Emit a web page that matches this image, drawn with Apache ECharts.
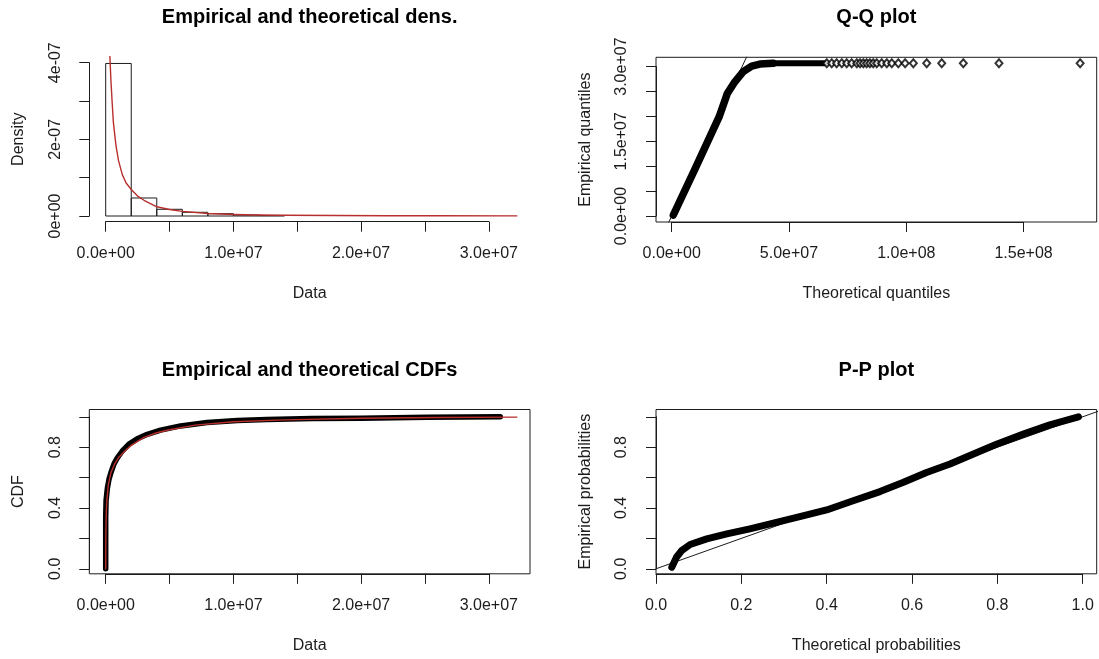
<!DOCTYPE html>
<html><head><meta charset="utf-8">
<script src="https://cdn.jsdelivr.net/npm/echarts@6/dist/echarts.min.js"></script>
<style>html,body{margin:0;padding:0;background:#fff}#c{width:1099px;height:659px}</style>
</head><body><div id="c"></div>
<script>
// ================= DATA =================
// Panel 1: histogram (density scale) + fitted density (red)
const histBreaks  = [0, 2e6, 4e6, 6e6, 8e6, 10e6, 12e6, 14e6];
const histDensity = [3.98e-7, 0.47e-7, 0.175e-7, 0.097e-7, 0.06e-7, 0.025e-7, 0.012e-7];
const densX = [2.5e5, 3.0e5, 4.0e5, 5.0e5, 6.0e5, 8.0e5, 1.0e6, 1.3e6, 1.6e6, 2.0e6, 2.5e6, 3.0e6, 4.0e6, 5.0e6, 6.0e6, 8.0e6, 1.0e7, 1.2e7, 1.4e7, 1.8e7, 2.2e7, 2.6e7, 3.22e7];
const densY = [5.2e-7, 4.4e-7, 3.6e-7, 3.0e-7, 2.45e-7, 1.85e-7, 1.45e-7, 1.08e-7, 0.86e-7, 0.69e-7, 0.52e-7, 0.41e-7, 0.24e-7, 0.17e-7, 0.12e-7, 0.065e-7, 0.04e-7, 0.028e-7, 0.02e-7, 0.012e-7, 0.008e-7, 0.005e-7, 0.003e-7];

// Panel 2: Q-Q plot (theoretical vs empirical quantiles)
const qqBandX = [0.07e7, 1.04e7, 2.02e7, 2.20e7, 2.37e7, 2.70e7, 3.05e7, 3.41e7, 3.76e7, 4.33e7];
const qqBandY = [0.02e7, 0.99e7, 1.99e7, 2.23e7, 2.46e7, 2.70e7, 2.90e7, 3.01e7, 3.05e7, 3.066e7];
const qqTailX = [4.33e7, 6.5e7];
const qqTailY = [3.066e7, 3.066e7];
const qqPointsX = [6.61e7, 6.82e7, 7.03e7, 7.25e7, 7.46e7, 7.67e7, 7.89e7, 8.03e7, 8.17e7, 8.31e7, 8.45e7, 8.59e7, 8.74e7, 8.95e7, 9.17e7, 9.38e7, 9.66e7, 9.95e7, 1.030e8, 1.087e8, 1.151e8, 1.243e8, 1.395e8, 1.741e8];
const qqPointsY = [3.066e7, 3.066e7, 3.066e7, 3.066e7, 3.066e7, 3.066e7, 3.066e7, 3.066e7, 3.066e7, 3.066e7, 3.066e7, 3.066e7, 3.066e7, 3.066e7, 3.066e7, 3.066e7, 3.066e7, 3.066e7, 3.066e7, 3.066e7, 3.066e7, 3.066e7, 3.066e7, 3.066e7];
const qqRefX = [-2e7, 2e8];
const qqRefY = [-2e7, 2e8];

// Panel 3: empirical (black) and theoretical (red) CDFs
const ecdfX = [0, 0, 0.03e6, 0.13e6, 0.26e6, 0.44e6, 0.65e6, 0.91e6, 1.3e6, 1.82e6, 2.47e6, 3.26e6, 4.3e6, 5.86e6, 7.94e6, 10.3e6, 12.6e6, 16.2e6, 20.0e6, 25.2e6, 30.9e6];
const ecdfY = [0.0, 0.34, 0.45, 0.53, 0.59, 0.64, 0.69, 0.73, 0.775, 0.82, 0.855, 0.885, 0.912, 0.94, 0.962, 0.975, 0.983, 0.988, 0.991, 0.997, 1.0];
const cdfFitX = [0, 0.01e6, 0.05e6, 0.1e6, 0.2e6, 0.4e6, 0.7e6, 1.0e6, 1.5e6, 2.0e6, 3.0e6, 4.0e6, 5.0e6, 7.0e6, 10e6, 14e6, 20e6, 26e6, 32.2e6];
const cdfFitY = [0, 0.22, 0.38, 0.46, 0.55, 0.63, 0.69, 0.73, 0.775, 0.812, 0.865, 0.895, 0.915, 0.945, 0.967, 0.98, 0.99, 0.995, 0.998];

// Panel 4: P-P plot
const ppX = [0.037, 0.048, 0.06, 0.08, 0.119, 0.166, 0.22, 0.275, 0.337, 0.4, 0.462, 0.525, 0.58, 0.634, 0.689, 0.744, 0.798, 0.861, 0.923, 0.99];
const ppY = [0.01, 0.076, 0.12, 0.16, 0.197, 0.23, 0.263, 0.3, 0.343, 0.387, 0.448, 0.508, 0.569, 0.634, 0.689, 0.755, 0.82, 0.886, 0.947, 1.0];
const ppRefX = [0, 1.1];
const ppRefY = [0, 1.1];

// Tick labels
const densXTickValues = [0, 1e7, 2e7, 3e7];
const densXTickLabels = ['0.0e+00', '1.0e+07', '2.0e+07', '3.0e+07'];
const densYTickValues = [0, 2e-7, 4e-7];
const densYTickLabels = ['0e+00', '2e-07', '4e-07'];
const qqXTickValues = [0, 5e7, 1e8, 1.5e8];
const qqXTickLabels = ['0.0e+00', '5.0e+07', '1.0e+08', '1.5e+08'];
const qqYTickValues = [0, 1.5e7, 3e7];
const qqYTickLabels = ['0.0e+00', '1.5e+07', '3.0e+07'];
const cdfYTickValues = [0, 0.4, 0.8];
const cdfYTickLabels = ['0.0', '0.4', '0.8'];
const ppXTickValues = [0, 0.2, 0.4, 0.6, 0.8, 1.0];
const ppXTickLabels = ['0.0', '0.2', '0.4', '0.6', '0.8', '1.0'];

// Texts
const titles = ['Empirical and theoretical dens.', 'Q-Q plot', 'Empirical and theoretical CDFs', 'P-P plot'];
const xNames = ['Data', 'Theoretical quantiles', 'Data', 'Theoretical probabilities'];
const yNames = ['Density', 'Empirical quantiles', 'CDF', 'Empirical probabilities'];

// ================= LAYOUT / STYLE =================
const INK = '#1c1c1c';
const RED = '#b8302e';
const FONT = '"Liberation Sans", Arial, Helvetica, sans-serif';

// plot: [left, top, right, bottom] px; xt/yt: pixel positions of first/last tick; xv/yv: their values
const panels = [
  {plot: [89.3, 56.7, 530, 221.7], xt: [105.7, 488.8], xv: [0, 3e7], xInt: 5e6,
   yt: [216, 62.7], yv: [0, 4e-7], yInt: 1e-7, box: false,
   xl: [densXTickValues, densXTickLabels], yl: [densYTickValues, densYTickLabels]},
  {plot: [656, 57.3, 1096.7, 222], xt: [671.7, 1023.6], xv: [0, 1.5e8], xInt: 5e7,
   yt: [216, 66.6], yv: [0, 3e7], yInt: 5e6, box: true,
   xl: [qqXTickValues, qqXTickLabels], yl: [qqYTickValues, qqYTickLabels]},
  {plot: [89.3, 409.5, 530, 573.8], xt: [105.7, 488.8], xv: [0, 3e7], xInt: 5e6,
   yt: [568.8, 416.8], yv: [0, 1], yInt: 0.2, box: true,
   xl: [densXTickValues, densXTickLabels], yl: [cdfYTickValues, cdfYTickLabels]},
  {plot: [656, 409.5, 1096.7, 573.8], xt: [656, 1082.7], xv: [0, 1], xInt: 0.2,
   yt: [568.8, 416.8], yv: [0, 1], yInt: 0.2, box: true,
   xl: [ppXTickValues, ppXTickLabels], yl: [cdfYTickValues, cdfYTickLabels]}
];

function lin(p0, v0, p1, v1, p) { return v0 + (p - p0) * (v1 - v0) / (p1 - p0); }

function rAxis(dim, gridIndex, min, max, interval, offset, vals, labels, margin) {
  const tol = interval * 1e-3;
  return {
    type: 'value', gridIndex, min, max, interval, offset,
    position: dim === 'x' ? 'bottom' : 'left',
    axisLine: {show: true, onZero: false, lineStyle: {color: INK, width: 1}},
    axisTick: {show: true, inside: false, length: 10, lineStyle: {color: INK, width: 1}},
    axisLabel: {
      show: true, margin, rotate: dim === 'y' ? 90 : 0,
      fontSize: 16, fontFamily: FONT, color: INK,
      showMinLabel: true, showMaxLabel: true, hideOverlap: false,
      formatter: function (v) {
        for (let i = 0; i < vals.length; i++) if (Math.abs(v - vals[i]) < tol) return labels[i];
        return '';
      }
    },
    splitLine: {show: false}, splitArea: {show: false}, minorTick: {show: false}
  };
}

const grids = [], xAxes = [], yAxes = [], graphics = [];
panels.forEach(function (p, i) {
  const [L, T, R, B] = p.plot;
  grids.push({left: L, top: T, width: R - L, height: B - T, show: p.box,
    borderColor: INK, borderWidth: 1, backgroundColor: 'transparent',
    containLabel: false, outerBoundsMode: 'none'});
  grids.push({left: p.xt[0], top: p.yt[1], width: p.xt[1] - p.xt[0], height: p.yt[0] - p.yt[1],
    show: false, containLabel: false, outerBoundsMode: 'none'});
  xAxes.push({type: 'value', gridIndex: 2 * i, show: false,
    min: lin(p.xt[0], p.xv[0], p.xt[1], p.xv[1], L), max: lin(p.xt[0], p.xv[0], p.xt[1], p.xv[1], R)});
  yAxes.push({type: 'value', gridIndex: 2 * i, show: false,
    min: lin(p.yt[0], p.yv[0], p.yt[1], p.yv[1], B), max: lin(p.yt[0], p.yv[0], p.yt[1], p.yv[1], T)});
  xAxes.push(rAxis('x', 2 * i + 1, p.xv[0], p.xv[1], p.xInt, B - p.yt[0], p.xl[0], p.xl[1], 24));
  yAxes.push(rAxis('y', 2 * i + 1, p.yv[0], p.yv[1], p.yInt, p.xt[0] - L, p.yl[0], p.yl[1], 26));

  const cx = (L + R) / 2, cy = (T + B) / 2;
  graphics.push({type: 'text', x: cx, y: T - 39.4, silent: true,
    style: {text: titles[i], fill: '#000', font: 'bold 20px ' + FONT, textAlign: 'center', textVerticalAlign: 'middle'}});
  graphics.push({type: 'text', x: cx, y: B + 71.8, silent: true,
    style: {text: xNames[i], fill: INK, font: '16px ' + FONT, textAlign: 'center', textVerticalAlign: 'middle'}});
  graphics.push({type: 'text', x: L - 70.5, y: cy, rotation: Math.PI / 2, silent: true,
    style: {text: yNames[i], fill: INK, font: '16px ' + FONT, textAlign: 'center', textVerticalAlign: 'middle'}});
});

function pairs(xs, ys) { return xs.map(function (x, k) { return [x, ys[k]]; }); }
function lineSeries(gi, xs, ys, color, width, z) {
  return {type: 'line', xAxisIndex: gi, yAxisIndex: gi, data: pairs(xs, ys),
    symbol: 'none', showSymbol: false, clip: true, silent: true, z: z || 2,
    lineStyle: {color: color, width: width, cap: 'round', join: 'round'}};
}

const series = [
  // Panel 1
  {type: 'custom', xAxisIndex: 0, yAxisIndex: 0, silent: true, z: 2,
   data: histDensity.map(function (d, k) { return [histBreaks[k], histBreaks[k + 1], d]; }),
   encode: {x: [0, 1], y: 2},
   renderItem: function (params, api) {
     const a = api.coord([api.value(0), api.value(2)]);
     const b = api.coord([api.value(1), 0]);
     return {type: 'rect', shape: {x: a[0], y: a[1], width: b[0] - a[0], height: b[1] - a[1]},
       style: {fill: 'none', stroke: INK, lineWidth: 1}};
   }},
  lineSeries(0, densX, densY, RED, 1.4, 3),
  // Panel 2
  lineSeries(2, qqRefX, qqRefY, INK, 1, 2),
  lineSeries(2, qqBandX, qqBandY, '#000', 7.5, 3),
  lineSeries(2, qqTailX, qqTailY, '#000', 6, 3),
  {type: 'scatter', xAxisIndex: 2, yAxisIndex: 2, data: pairs(qqPointsX, qqPointsY), silent: true, z: 4,
   symbol: 'emptyDiamond', symbolSize: [7, 8],
   itemStyle: {color: '#000', borderColor: '#000', borderWidth: 1}},
  // Panel 3
  lineSeries(4, ecdfX, ecdfY, '#000', 5.5, 2),
  lineSeries(4, cdfFitX, cdfFitY, RED, 1.4, 3),
  // Panel 4
  lineSeries(6, ppRefX, ppRefY, INK, 1, 2),
  lineSeries(6, ppX, ppY, '#000', 7, 3)
];

const chart = echarts.init(document.getElementById('c'), null, {renderer: 'canvas'});
chart.setOption({
  animation: false,
  backgroundColor: '#fff',
  grid: grids, xAxis: xAxes, yAxis: yAxes,
  series: series,
  graphic: {elements: graphics}
});
</script>
</body></html>
